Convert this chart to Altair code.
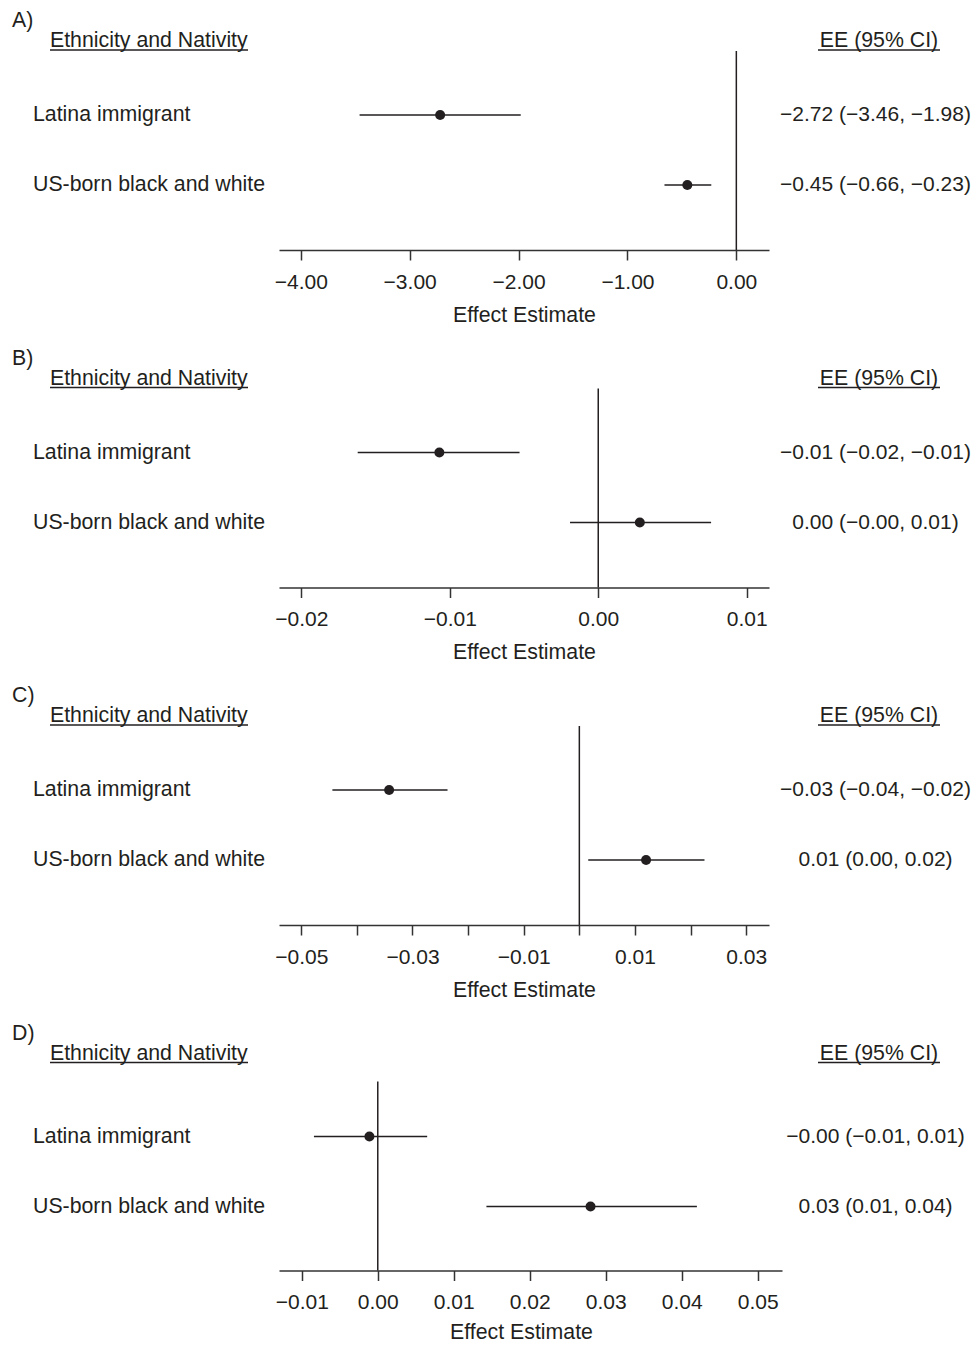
import altair as alt
import pandas as pd

# ---------------- data ----------------
panel_tags = ["A)", "B)", "C)", "D)"]
groups = ["Latina immigrant", "US-born black and white"]
header_left = "Ethnicity and Nativity"
header_right = "EE (95% CI)"
axis_title = "Effect Estimate"

est_a = [-2.72, -0.45]
lo_a = [-3.46, -0.66]
hi_a = [-1.98, -0.23]
ee_a = ["−2.72 (−3.46, −1.98)", "−0.45 (−0.66, −0.23)"]

est_b = [-0.0107, 0.0028]
lo_b = [-0.0162, -0.0019]
hi_b = [-0.0053, 0.0076]
ee_b = ["−0.01 (−0.02, −0.01)", "0.00 (−0.00, 0.01)"]

est_c = [-0.0342, 0.0120]
lo_c = [-0.0444, 0.0016]
hi_c = [-0.0237, 0.0225]
ee_c = ["−0.03 (−0.04, −0.02)", "0.01 (0.00, 0.02)"]

est_d = [-0.0011, 0.0280]
lo_d = [-0.0084, 0.0143]
hi_d = [0.0065, 0.0420]
ee_d = ["−0.00 (−0.01, 0.01)", "0.03 (0.01, 0.04)"]

ticks_a = [-4, -3, -2, -1, 0]
ticks_b = [-0.02, -0.01, 0, 0.01]
ticks_c = [-0.05, -0.04, -0.03, -0.02, -0.01, 0, 0.01, 0.02, 0.03]
ticks_d = [-0.01, 0, 0.01, 0.02, 0.03, 0.04, 0.05]

domain_a = [-4.2, 0.3]
domain_b = [-0.0215, 0.0115]
domain_c = [-0.054, 0.0341]
domain_d = [-0.013, 0.0532]

# ---------------- styling / layout ----------------
FONT = "Liberation Sans"
INK = "#231f20"
FS = 21.3

panels_data = [
    dict(est=est_a, lo=lo_a, hi=hi_a, ee=ee_a, ticks=ticks_a, dom=domain_a, every=1,
         w=490, h=199, yt=1 - 64 / 70, yb=2 + 65 / 70, tag_y=-30, hdr_y=-10, ul_y=-1,
         title_x=245, tpad=12),
    dict(est=est_b, lo=lo_b, hi=hi_b, ee=ee_b, ticks=ticks_b, dom=domain_b, every=1,
         w=490, h=199, yt=1 - 64 / 70, yb=2 + 65 / 70, tag_y=-30, hdr_y=-10, ul_y=-1,
         title_x=245, tpad=12),
    dict(est=est_c, lo=lo_c, hi=hi_c, ee=ee_c, ticks=ticks_c, dom=domain_c, every=2,
         w=490, h=199, yt=1 - 64 / 70, yb=2 + 65 / 70, tag_y=-30, hdr_y=-10, ul_y=-1,
         title_x=245, tpad=12),
    dict(est=est_d, lo=lo_d, hi=hi_d, ee=ee_d, ticks=ticks_d, dom=domain_d, every=1,
         w=503, h=189, yt=1 - 55 / 70, yb=2 + 64 / 70, tag_y=-48, hdr_y=-28, ul_y=-19,
         title_x=242, tpad=9),
]


def make_panel(i, P):
    df = pd.DataFrame({
        "group": groups,
        "row": [1, 2],
        "est": P["est"],
        "lo": P["lo"],
        "hi": P["hi"],
        "ee": P["ee"],
    })
    xscale = alt.Scale(domain=P["dom"], nice=False, zero=False)
    yscale = alt.Scale(domain=[P["yb"], P["yt"]], nice=False, zero=False)
    axis_kw = dict(values=P["ticks"], format=".2f", title=axis_title,
                   titleX=P["title_x"], titlePadding=P["tpad"])
    if P["every"] == 2:
        axis_kw["labelExpr"] = "abs(round(datum.value*100)) % 2 == 1 ? datum.label : ''"
    xaxis = alt.Axis(**axis_kw)

    base = alt.Chart(df)
    ci = base.mark_rule(color=INK, strokeWidth=1.5).encode(
        x=alt.X("lo:Q", scale=xscale, axis=xaxis),
        x2="hi:Q",
        y=alt.Y("row:Q", scale=yscale, axis=None),
    )
    pts = base.mark_circle(color=INK, opacity=1, size=100).encode(
        x=alt.X("est:Q", scale=xscale, axis=xaxis),
        y=alt.Y("row:Q", scale=yscale, axis=None),
    )
    zero = alt.Chart(pd.DataFrame({"z": [0]})).mark_rule(color=INK, strokeWidth=1.5).encode(
        x=alt.X("z:Q", scale=xscale, axis=xaxis),
    )
    labels = base.mark_text(align="left", baseline="middle").encode(
        x=alt.value(-246), y=alt.Y("row:Q", scale=yscale, axis=None), text="group:N"
    )
    vals = base.mark_text(align="center", baseline="middle", fontSize=21).encode(
        x=alt.value(596.5), y=alt.Y("row:Q", scale=yscale, axis=None), text="ee:N"
    )
    one = pd.DataFrame({"t": [panel_tags[i]], "hl": [header_left], "hr": [header_right]})
    tag = alt.Chart(one).mark_text(align="left", baseline="middle").encode(
        x=alt.value(-267), y=alt.value(P["tag_y"]), text="t:N"
    )
    hl = alt.Chart(one).mark_text(align="left", baseline="middle").encode(
        x=alt.value(-229), y=alt.value(P["hdr_y"]), text="hl:N"
    )
    hr = alt.Chart(one).mark_text(align="center", baseline="middle").encode(
        x=alt.value(600), y=alt.value(P["hdr_y"]), text="hr:N"
    )
    ul1 = alt.Chart(one).mark_rule(color=INK, strokeWidth=1.3).encode(
        x=alt.value(-229), x2=alt.value(-31), y=alt.value(P["ul_y"])
    )
    ul2 = alt.Chart(one).mark_rule(color=INK, strokeWidth=1.3).encode(
        x=alt.value(539), x2=alt.value(661), y=alt.value(P["ul_y"])
    )
    return alt.layer(ci, zero, pts, labels, vals, tag, hl, hr, ul1, ul2).properties(
        width=P["w"], height=P["h"]
    )


chart = alt.vconcat(*[make_panel(i, P) for i, P in enumerate(panels_data)], spacing=21.5).properties(
    padding={"left": 4, "top": 2, "right": 0, "bottom": 2}
).configure(font=FONT).configure_view(stroke=None).configure_axis(
    labelFont=FONT, titleFont=FONT, labelFontSize=21, titleFontSize=FS,
    titleFontWeight="normal", labelColor=INK, titleColor=INK,
    domainColor="#333333", tickColor="#333333", domainWidth=1.5, tickWidth=1.5,
    tickSize=10, labelPadding=11, grid=False,
).configure_text(font=FONT, fontSize=FS, color=INK)

chart.save("out.html", embed_options={"renderer": "svg", "actions": False})
